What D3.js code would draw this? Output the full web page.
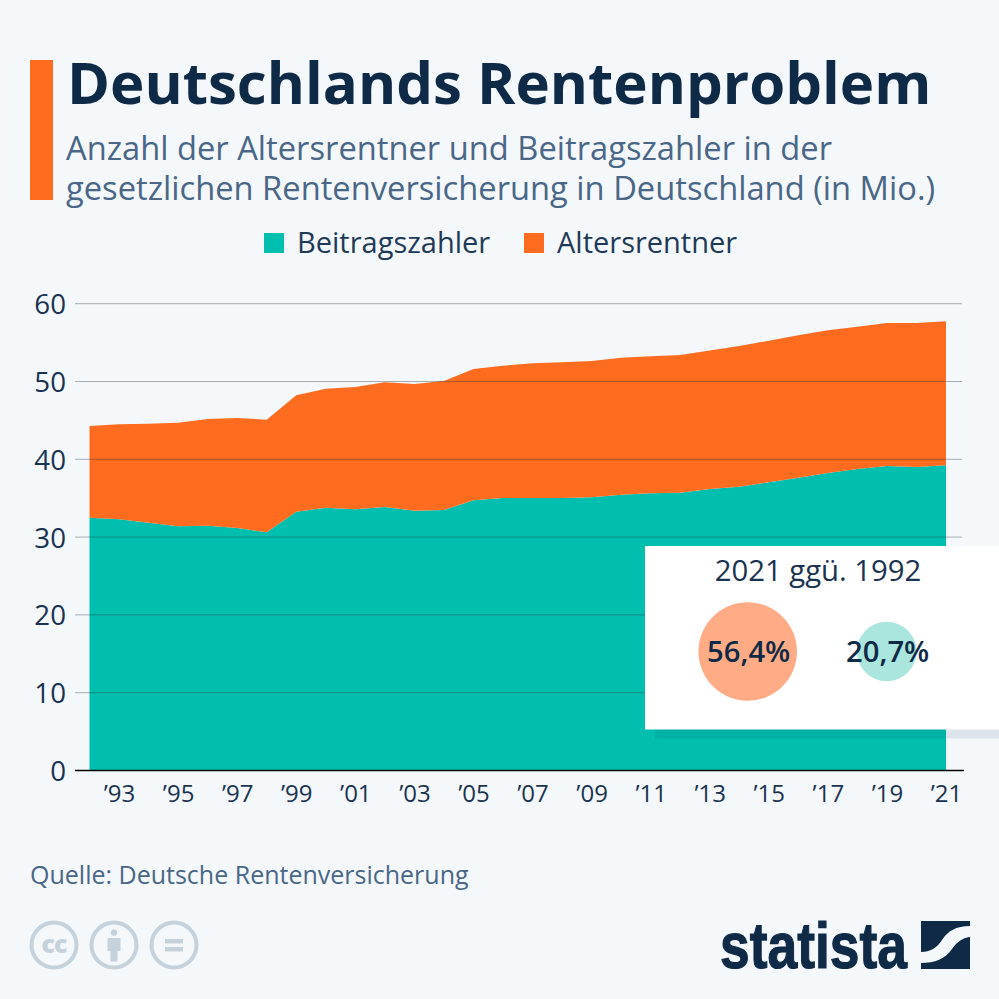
<!DOCTYPE html>
<html>
<head>
<meta charset="utf-8">
<script src="https://cdn.jsdelivr.net/npm/d3@7"></script>
<style>
html, body { margin: 0; padding: 0; background: #f4f8fb; }
svg { display: block; font-family: "Open Sans", sans-serif; }
.axis path, .axis line { display: none; }
.axis text { font-family: "Open Sans", sans-serif; fill: #1a3350; }
</style>
</head>
<body>
<div id="chart"></div>
<script>
const years = d3.range(1992, 2022);
const beitragszahler = [32.5, 32.28, 31.86, 31.38, 31.47, 31.17, 30.61, 33.27, 33.78, 33.57,
    33.87, 33.4, 33.48, 34.73, 35.03, 35.03, 35.03, 35.11, 35.45, 35.63,
    35.71, 36.18, 36.48, 37.04, 37.64, 38.24, 38.75, 39.14, 39.01, 39.22];
const altersrentner = [11.78, 12.21, 12.72, 13.33, 13.71, 14.14, 14.48, 14.95, 15.3, 15.72,
    16.02, 16.28, 16.58, 16.88, 17, 17.3, 17.43, 17.53, 17.61, 17.61,
    17.7, 17.82, 18.08, 18.21, 18.3, 18.34, 18.3, 18.38, 18.51, 18.51];
const yTicks = [0, 10, 20, 30, 40, 50, 60];
const xTicks = d3.range(1993, 2022, 2);
const legendLabels = ["Beitragszahler", "Altersrentner"];
const changeLabels = ["56,4%", "20,7%"];
const changeValues = [56.4, 20.7];

const teal = "#00bfae";
const orange = "#ff6c20";
const navy = "#0f2a46";
const slate = "#4a6787";

const svg = d3.select("#chart").append("svg")
    .attr("width", 999)
    .attr("height", 999);

svg.append("rect").attr("width", 999).attr("height", 999).attr("fill", "#f4f8fb");

// header
svg.append("rect").attr("x", 30).attr("y", 60).attr("width", 23).attr("height", 140).attr("fill", orange);
svg.append("text").attr("x", 67).attr("y", 103.5)
    .attr("font-size", 58.2).attr("font-weight", 700).attr("fill", navy)
    .text("Deutschlands Rentenproblem");
svg.append("text").attr("x", 66).attr("y", 160)
    .attr("font-size", 32.7).attr("fill", slate)
    .text("Anzahl der Altersrentner und Beitragszahler in der");
svg.append("text").attr("x", 66).attr("y", 200)
    .attr("font-size", 32.7).attr("fill", slate)
    .text("gesetzlichen Rentenversicherung in Deutschland (in Mio.)");

// legend
const legendX = [264, 524];
legendLabels.forEach((d, i) => {
    svg.append("rect").attr("x", legendX[i]).attr("y", 233).attr("width", 20).attr("height", 20)
        .attr("fill", i === 0 ? teal : orange);
    svg.append("text").attr("x", legendX[i] + 33).attr("y", 253)
        .attr("font-size", 29).attr("fill", "#1f3a57")
        .text(d);
});

// chart
const x = d3.scaleLinear().domain([1992, 2021]).range([89.5, 946]);
const y = d3.scaleLinear().domain([0, 60]).range([770.5, 303.7]);

const rows = years.map((yr, i) => ({ year: yr, b: beitragszahler[i], a: altersrentner[i] }));
const stacked = d3.stack().keys(["b", "a"])(rows);

const area = d3.area()
    .x(d => x(d.data.year))
    .y0(d => y(d[0]))
    .y1(d => y(d[1]));

svg.selectAll(".layer").data(stacked).enter().append("path")
    .attr("class", "layer")
    .attr("d", area)
    .attr("fill", (d, i) => i === 0 ? teal : orange);

// grid sits on top of the areas
svg.selectAll(".grid").data(yTicks.filter(d => d > 0)).enter().append("line")
    .attr("class", "grid")
    .attr("x1", 75).attr("x2", 962)
    .attr("y1", d => y(d)).attr("y2", d => y(d))
    .attr("stroke", "#23303c").attr("stroke-opacity", 0.38).attr("stroke-width", 1);

const yAxis = svg.append("g").attr("class", "axis")
    .attr("transform", "translate(66,0)")
    .call(d3.axisLeft(y).tickValues(yTicks).tickSize(0).tickPadding(0));
yAxis.selectAll("text").attr("font-size", 27.7).attr("dy", "0.36em");

const xAxis = svg.append("g").attr("class", "axis")
    .attr("transform", "translate(0,770.5)")
    .call(d3.axisBottom(x).tickValues(xTicks).tickSize(0).tickPadding(14.5)
        .tickFormat(d => "\u2019" + String(d).slice(2)));
xAxis.selectAll("text").attr("font-size", 24).attr("dy", "0.71em");

svg.append("line").attr("x1", 75).attr("x2", 964).attr("y1", 770.5).attr("y2", 770.5)
    .attr("stroke", "#000").attr("stroke-width", 1.5);

// inset
svg.append("rect").attr("x", 655).attr("y", 556).attr("width", 344).attr("height", 182.5)
    .attr("fill", "#0f3a66").attr("fill-opacity", 0.1);
svg.append("rect").attr("x", 645).attr("y", 546).attr("width", 354).attr("height", 183.5).attr("fill", "#fff");
svg.append("text").attr("x", 818).attr("y", 581)
    .attr("text-anchor", "middle").attr("font-size", 29.3).attr("fill", "#1a3350")
    .text("2021 ggü. 1992");

const r = d3.scaleSqrt().domain([0, 56.4]).range([0, 49.3]);
const changeX = [747.7, 886.7];
const changeFill = ["#ffab85", "#aae6de"];
changeValues.forEach((v, i) => {
    svg.append("circle").attr("cx", changeX[i]).attr("cy", 651.5).attr("r", r(v))
        .attr("fill", changeFill[i]);
    svg.append("text").attr("x", changeX[i] + 1).attr("y", 662)
        .attr("text-anchor", "middle").attr("font-size", 29.2).attr("font-weight", 600).attr("fill", navy)
        .text(changeLabels[i]);
});

// footer
svg.append("text").attr("x", 30).attr("y", 884)
    .attr("font-size", 25).attr("fill", slate)
    .text("Quelle: Deutsche Rentenversicherung");

const cc = svg.append("g");
const iconColor = "#c5d2db";
[54, 114, 174].forEach(cx => {
    cc.append("circle").attr("cx", cx).attr("cy", 945).attr("r", 22.5)
        .attr("fill", "none").attr("stroke", iconColor).attr("stroke-width", 4);
});
cc.append("text").attr("x", 54).attr("y", 953).attr("text-anchor", "middle")
    .attr("font-size", 25).attr("font-weight", 800).attr("letter-spacing", -1).attr("fill", iconColor).text("cc");
cc.append("circle").attr("cx", 114).attr("cy", 932.5).attr("r", 3.2).attr("fill", iconColor);
cc.append("path").attr("fill", iconColor)
    .attr("d", "M107.5 938h13v13h-3v10.5h-7V951h-3z");
cc.append("rect").attr("x", 165).attr("y", 939).attr("width", 18).attr("height", 4.5).attr("fill", iconColor);
cc.append("rect").attr("x", 165).attr("y", 947).attr("width", 18).attr("height", 4.5).attr("fill", iconColor);

// logo
svg.append("text").attr("x", 720).attr("y", 968)
    .attr("font-family", "'Liberation Sans Narrow', 'Liberation Sans', sans-serif")
    .attr("font-size", 64).attr("font-weight", 700).attr("fill", navy)
    .attr("stroke", navy).attr("stroke-width", 1.2)
    .attr("textLength", 187).attr("lengthAdjust", "spacingAndGlyphs")
    .text("statista");
svg.append("path").attr("fill", navy)
    .attr("d", "M921 921h49v5c-14 0-22 5-28 14c-5 8-12 12-21 12z");
svg.append("path").attr("fill", navy)
    .attr("d", "M970 937v32h-49v-6c14 0 24-4 31-14c5-7 10-11 18-12z");
</script>
</body>
</html>
